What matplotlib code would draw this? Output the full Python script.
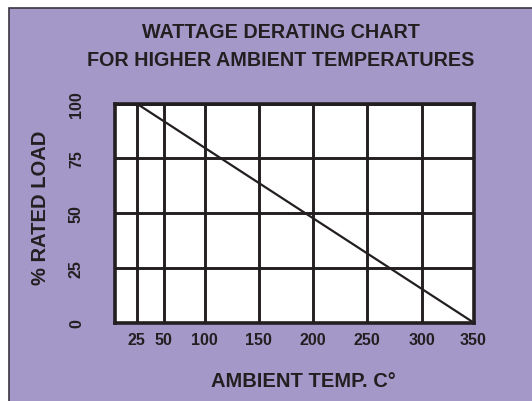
import matplotlib
matplotlib.use("Agg")
import matplotlib.pyplot as plt
from matplotlib.patches import Rectangle
import numpy as np

# derating line: % rated load vs ambient temperature
temps = [25, 350]
load = [100, 0]

x_ticks = [25, 50, 100, 150, 200, 250, 300, 350]
y_ticks = [0, 25, 50, 75, 100]

title = "WATTAGE DERATING CHART\nFOR HIGHER AMBIENT TEMPERATURES"
x_label = "AMBIENT TEMP. C°"
y_label = "% RATED LOAD"

purple = "#a498c9"
ink = "#231f20"

plt.rcParams['font.family'] = ['Liberation Sans', 'DejaVu Sans']

# the printed chart spaces its temperature ticks unevenly
scale_t = [0, 25, 50, 100, 150, 200, 250, 300, 350]
scale_p = [0, 22, 49, 90, 144, 198, 252, 307, 358]

def fwd(x):
    return np.interp(x, scale_t, scale_p)

def inv(p):
    return np.interp(p, scale_p, scale_t)

fig = plt.figure(figsize=(5.32, 4.02), dpi=100, facecolor="white")
bg = Rectangle((9 / 532, -0.01), 1.0, (402 - 8.5) / 402 + 0.01,
               transform=fig.transFigure, facecolor=purple,
               edgecolor="#3a3540", linewidth=1.2, zorder=-1)
fig.patches.append(bg)

ax = fig.add_axes([114.5 / 532, (402 - 323.5) / 402, 359 / 532, 219 / 402])
ax.set_zorder(1)
ax.set_facecolor("white")
ax.set_xscale("function", functions=(fwd, inv))
ax.set_xlim(0, 350)
ax.set_ylim(0, 100)

ax.set_xticks(x_ticks)
ax.set_yticks(y_ticks)
ax.grid(True, color=ink, linewidth=2.1)
ax.set_axisbelow(True)
ax.tick_params(length=0, pad=7)
for lab in ax.get_xticklabels():
    lab.set_fontsize(11.5)
    lab.set_fontweight("bold")
    lab.set_color(ink)
for lab in ax.get_yticklabels():
    lab.set_fontsize(11.5)
    lab.set_fontweight("bold")
    lab.set_color(ink)
    lab.set_rotation(90)
    lab.set_va("center")
ax.tick_params(axis="y", pad=22)

for s in ax.spines.values():
    s.set_linewidth(2.6)
    s.set_color(ink)

ax.plot(temps, load, color=ink, linewidth=1.6, solid_capstyle="butt", zorder=3)

ax.set_xlabel(x_label, fontsize=14.5, fontweight="bold", color=ink)
ax.xaxis.set_label_coords(0.525, -0.222)
ax.set_ylabel(y_label, fontsize=14.5, fontweight="bold", color=ink)
ax.yaxis.set_label_coords(-0.18, 0.53)
fig.text(281 / 532, 1 - 47 / 402, title, ha="center", va="center",
         fontsize=14.2, fontweight="bold", color=ink, linespacing=1.6)

fig.savefig("out.png", dpi=100, facecolor="white")
